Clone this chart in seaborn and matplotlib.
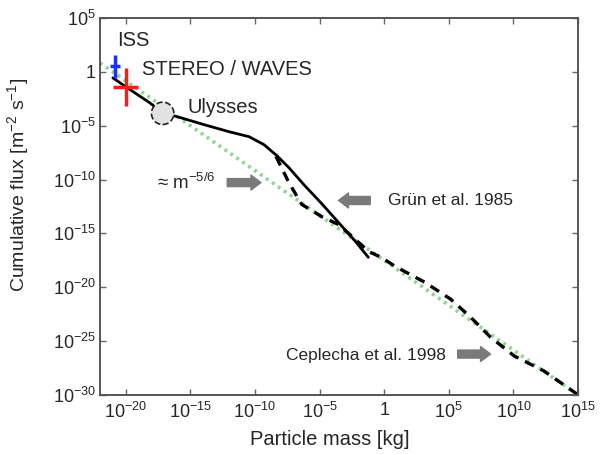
import numpy as np
import pandas as pd
import matplotlib
matplotlib.use("Agg")
import matplotlib.pyplot as plt
import seaborn as sns

# ---------------- data (log10 units) ----------------
grun_logm = [-21.0, -20.0, -18.15, -17.15, -16.0, -13.92, -12.0, -10.46, -9.31,
             -8.31, -7.38, -6.23, -4.85, -3.54, -2.23, -1.23]
grun_logf = [-0.56, -1.39, -2.87, -3.80, -4.17, -4.91, -5.56, -6.02, -6.76,
             -7.78, -8.89, -10.46, -12.22, -13.98, -15.74, -17.22]

cep_logm = [-8.38, -7.38, -6.38, -4.85, -3.54, -2.23, -1.23, -0.23, 0.85,
            3.15, 5.15, 6.69, 8.23, 10.08, 12.38, 14.69, 15.0]
cep_logf = [-7.85, -10.28, -12.31, -13.43, -14.17, -15.56, -16.67, -17.22, -18.06,
            -19.54, -21.11, -22.78, -24.63, -26.39, -27.78, -29.72, -30.0]

powerlaw_logm = [-22.0, 15.0]
powerlaw_logf = [0.83, -30.0]

iss_logm, iss_logf = -20.85, 0.5
iss_xrange = [-21.23, -20.46]
iss_yrange = [1.57, -0.56]

stereo_logm, stereo_logf = -20.0, -1.39
stereo_xrange = [-21.0, -19.08]
stereo_yrange = [0.37, -3.15]

ulysses_logm, ulysses_logf = -17.15, -3.85

x_ticks = [1e-20, 1e-15, 1e-10, 1e-5, 1, 1e5, 1e10, 1e15]
x_tick_labels = ["$10^{-20}$", "$10^{-15}$", "$10^{-10}$", "$10^{-5}$", "1",
                 "$10^{5}$", "$10^{10}$", "$10^{15}$"]
y_ticks = [1e5, 1, 1e-5, 1e-10, 1e-15, 1e-20, 1e-25, 1e-30]
y_tick_labels = ["$10^{5}$", "1", "$10^{-5}$", "$10^{-10}$", "$10^{-15}$",
                 "$10^{-20}$", "$10^{-25}$", "$10^{-30}$"]

# ---------------- style ----------------
sns.set_style("ticks")
plt.rcParams["font.family"] = ["Liberation Sans", "DejaVu Sans"]
plt.rcParams["mathtext.fontset"] = "custom"
plt.rcParams["mathtext.rm"] = "Liberation Sans"
plt.rcParams["mathtext.it"] = "Liberation Sans:italic"
plt.rcParams["mathtext.bf"] = "Liberation Sans:bold"

fig = plt.figure(figsize=(6.03, 4.55), dpi=100)
ax = fig.add_axes([100 / 603, 1 - 395 / 455, 478 / 603, 377 / 455])

def to_df(lm, lf):
    return pd.DataFrame({"m": 10.0 ** np.asarray(lm), "f": 10.0 ** np.asarray(lf)})

sns.lineplot(data=to_df(powerlaw_logm, powerlaw_logf), x="m", y="f", ax=ax, sort=False,
             color="#8fd48f", lw=2.6, linestyle=(0, (0.8, 1.2)), estimator=None)
sns.lineplot(data=to_df(cep_logm, cep_logf), x="m", y="f", ax=ax, sort=False,
             color="black", lw=2.4, linestyle=(0, (3, 2.2)), estimator=None)
sns.lineplot(data=to_df(grun_logm, grun_logf), x="m", y="f", ax=ax, sort=False,
             color="black", lw=2.0, estimator=None)

ax.set_xscale("log")
ax.set_yscale("log")
ax.set_xlim(1e-22, 1e15)
ax.set_ylim(1e-30, 1e5)

# ISS (blue) and STEREO/WAVES (red) crosses
for lm, lf, xr, yr, col in [(iss_logm, iss_logf, iss_xrange, iss_yrange, "#1f2fff"),
                            (stereo_logm, stereo_logf, stereo_xrange, stereo_yrange, "#ff1a1a")]:
    ax.plot(10.0 ** np.array(xr), [10.0 ** lf] * 2, color=col, lw=2.5, solid_capstyle="butt", zorder=5)
    ax.plot([10.0 ** lm] * 2, 10.0 ** np.array(yr), color=col, lw=2.5, solid_capstyle="butt", zorder=5)

# Ulysses circle
ax.scatter([10.0 ** ulysses_logm], [10.0 ** ulysses_logf], s=260, facecolor="#e2e2e2",
           edgecolor="#222222", linewidths=1.2, linestyle="--", zorder=6)

# text annotations
fs = 14.5
ax.text(10.0 ** -20.7, 10.0 ** 2.9, "ISS", fontsize=fs, va="center", ha="left")
ax.text(10.0 ** -18.77, 10.0 ** 0.2, "STEREO / WAVES", fontsize=fs, va="center", ha="left")
ax.text(10.0 ** -15.2, 10.0 ** -3.3, "Ulysses", fontsize=fs, va="center", ha="left")
ax.text(10.0 ** -17.6, 10.0 ** -10.35, r"≈ m$^{-5/6}$", fontsize=13.5, va="center", ha="left")
ax.text(10.0 ** 0.3, 10.0 ** -11.95, "Grün et al. 1985", fontsize=12.5, va="center", ha="left")
ax.text(10.0 ** -7.6, 10.0 ** -26.3, "Ceplecha et al. 1998", fontsize=12.5, va="center", ha="left")

arrow_kw = dict(arrowstyle="simple,head_length=0.6,head_width=0.9,tail_width=0.48",
                color="#7a7a7a", shrinkA=0, shrinkB=0, mutation_scale=12)
ax.annotate("", xy=(10.0 ** -9.54, 10.0 ** -10.28), xytext=(10.0 ** -12.15, 10.0 ** -10.28),
            arrowprops=arrow_kw)
ax.annotate("", xy=(10.0 ** -3.54, 10.0 ** -11.94), xytext=(10.0 ** -1.08, 10.0 ** -11.94),
            arrowprops=arrow_kw)
ax.annotate("", xy=(10.0 ** 8.23, 10.0 ** -26.2), xytext=(10.0 ** 5.69, 10.0 ** -26.2),
            arrowprops=arrow_kw)

# axes styling
ax.xaxis.set_major_locator(matplotlib.ticker.FixedLocator(x_ticks))
ax.yaxis.set_major_locator(matplotlib.ticker.FixedLocator(y_ticks))
ax.xaxis.set_minor_locator(matplotlib.ticker.NullLocator())
ax.yaxis.set_minor_locator(matplotlib.ticker.NullLocator())
ax.set_xticklabels(x_tick_labels)
ax.set_yticklabels(y_tick_labels)
ax.tick_params(axis="both", which="major", direction="in", length=4, width=1.0,
               color="#666666", labelsize=13, top=True, right=True)
ax.tick_params(axis="x", pad=5)
ax.tick_params(axis="y", pad=3)
for sp in ax.spines.values():
    sp.set_color("#555555")
    sp.set_linewidth(1.4)

ax.set_xlabel("Particle mass [kg]", fontsize=14.5, labelpad=6, x=0.481)
ax.set_ylabel(r"Cumulative flux [m$^{-2}$ s$^{-1}$]", fontsize=14, labelpad=16, y=0.557)

fig.savefig("out.png", dpi=100)
